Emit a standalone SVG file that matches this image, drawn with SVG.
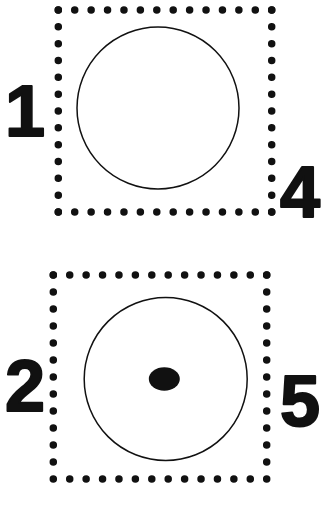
<svg xmlns="http://www.w3.org/2000/svg" width="321" height="508" viewBox="0 0 321 508">
<style>
.dh{stroke:#111;stroke-width:7.5;stroke-linecap:round;fill:none}
.c{fill:none;stroke:#111;stroke-width:1.5}
.n{font-family:"Liberation Sans",Arial,sans-serif;font-weight:bold;font-size:72px;fill:#111;stroke:#111;stroke-width:2;stroke-linejoin:round}
</style>
<rect width="321" height="508" fill="#fff"/>
<g id="box1">
<line class="dh" x1="58.3" y1="10" x2="271.7" y2="10" stroke-dasharray="0 16.415"/>
<line class="dh" x1="58.3" y1="212" x2="271.7" y2="212" stroke-dasharray="0 16.415"/>
<line class="dh" x1="58.3" y1="10" x2="58.3" y2="212" stroke-dasharray="0 16.833"/>
<line class="dh" x1="271.7" y1="10" x2="271.7" y2="212" stroke-dasharray="0 16.833"/>
<circle class="c" cx="158" cy="108" r="81"/>
</g>
<g id="box2">
<line class="dh" x1="53.3" y1="275" x2="266.7" y2="275" stroke-dasharray="0 16.415"/>
<line class="dh" x1="53.3" y1="479" x2="266.7" y2="479" stroke-dasharray="0 16.415"/>
<line class="dh" x1="53.3" y1="275" x2="53.3" y2="479" stroke-dasharray="0 17"/>
<line class="dh" x1="266.7" y1="275" x2="266.7" y2="479" stroke-dasharray="0 17"/>
<circle class="c" cx="165.7" cy="379" r="81.5"/>
<ellipse cx="164.3" cy="379" rx="15.5" ry="11.7" fill="#111"/>
</g>
<g id="labels">
<text class="n" x="5" y="136">1</text>
<text class="n" x="280" y="217">4</text>
<text class="n" x="5" y="411">2</text>
<text class="n" x="280" y="426">5</text>
</g>
</svg>
